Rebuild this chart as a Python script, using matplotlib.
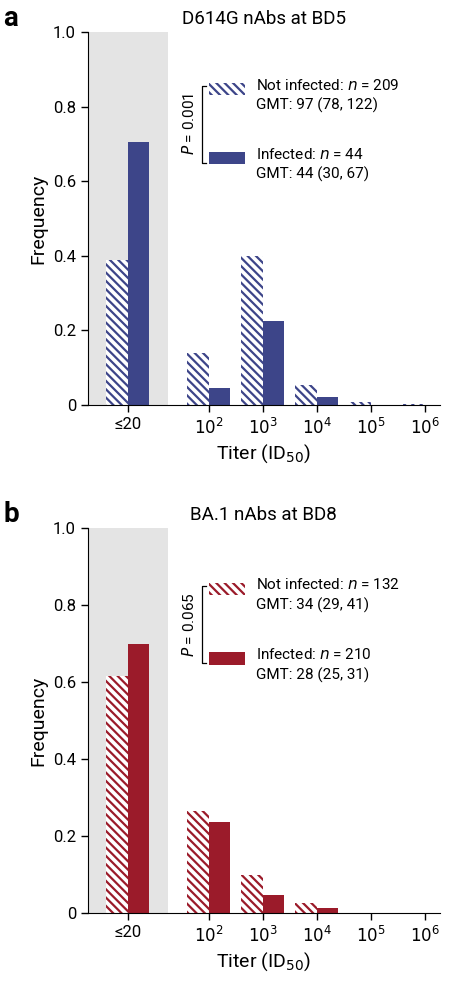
import matplotlib
matplotlib.use("Agg")
import matplotlib.pyplot as plt
from matplotlib.patches import Rectangle

plt.rcParams['font.family'] = ['Roboto', 'DejaVu Sans']
plt.rcParams['hatch.linewidth'] = 1.6

positions = [0.5, 2, 3, 4, 5, 6]
ticklabels = ['≤20', '$10^2$', '$10^3$', '$10^4$', '$10^5$', '$10^6$']
a_not = [0.39, 0.14, 0.40, 0.055, 0.008, 0.002]
a_inf = [0.705, 0.045, 0.225, 0.022, 0.0, 0.0]
b_not = [0.615, 0.265, 0.098, 0.025, 0.0, 0.0]
b_inf = [0.70, 0.237, 0.047, 0.013, 0.0, 0.0]
panels = [
    dict(letter='a', title='D614G nAbs at BD5', color='#3d4589', nv=a_not, iv=a_inf,
         l1=('Not infected: ', '209', 'GMT: 97 (78, 122)'), l2=('Infected: ', '44', 'GMT: 44 (30, 67)'), p='0.001'),
    dict(letter='b', title='BA.1 nAbs at BD8', color='#9b1b2a', nv=b_not, iv=b_inf,
         l1=('Not infected: ', '132', 'GMT: 34 (29, 41)'), l2=('Infected: ', '210', 'GMT: 28 (25, 31)'), p='0.065'),
]
rects = [[0.194, 0.5913, 0.777, 0.3764], [0.194, 0.0787, 0.777, 0.3885]]
H = '\\\\\\\\'

fig = plt.figure(figsize=(4.53, 9.91), dpi=100)
w = 0.4
for pnl, r in zip(panels, rects):
    ax = fig.add_axes(r)
    c = pnl['color']
    ax.axvspan(-0.24, 1.24, color='#e4e4e4', lw=0, zorder=0)
    ax.bar([p - w/2 for p in positions], pnl['nv'], width=w, color='white', edgecolor=c,
           hatch=H, linewidth=0, zorder=2)
    ax.bar([p + w/2 for p in positions], pnl['iv'], width=w, color=c, linewidth=0, zorder=2)
    ax.set_xlim(-0.24, 6.28)
    ax.set_ylim(0, 1.0)
    ax.set_xticks(positions)
    ax.set_xticklabels(ticklabels, fontsize=12)
    ax.set_yticks([0, 0.2, 0.4, 0.6, 0.8, 1.0])
    ax.set_yticklabels(['0', '0.2', '0.4', '0.6', '0.8', '1.0'], fontsize=12)
    ax.spines['top'].set_visible(False)
    ax.spines['right'].set_visible(False)
    ax.tick_params(direction='out', length=5, width=1)
    ax.set_ylabel('Frequency', fontsize=14)
    ax.set_xlabel('Titer (ID$_{50}$)', fontsize=14)
    ax.set_title(pnl['title'], fontsize=13.5, pad=6)
    ax.text(-0.24, 1.0, pnl['letter'], transform=ax.transAxes, fontsize=20, fontweight='bold',
            ha='left', va='bottom')
    tr = ax.transAxes
    ys = [0.845, 0.66] if pnl['letter'] == 'a' else [0.84, 0.66]
    for k, (lab, y) in enumerate(zip([pnl['l1'], pnl['l2']], ys)):
        if k == 0:
            ax.add_patch(Rectangle((0.345, y - 0.015), 0.1, 0.032, transform=tr, facecolor='white',
                                   edgecolor=c, hatch=H, linewidth=0))
        else:
            ax.add_patch(Rectangle((0.345, y - 0.015), 0.1, 0.032, transform=tr, facecolor=c, linewidth=0))
        ax.text(0.478, y + 0.012, lab[0] + '$\\it{n}$ = ' + lab[1], transform=tr, fontsize=11,
                va='center')
        ax.text(0.478, y - 0.042, lab[2], transform=tr, fontsize=11, va='center')
    bx = 0.325
    ax.plot([bx + 0.012, bx, bx, bx + 0.012], [ys[0] + 0.01, ys[0] + 0.01, ys[1] - 0.01, ys[1] - 0.01],
            transform=tr, color='black', lw=0.9)
    ax.text(bx - 0.015, (ys[0] + ys[1]) / 2, '$\\it{P}$ = ' + pnl['p'], transform=tr, rotation=90,
            fontsize=11, ha='right', va='center')

fig.savefig('out.png', dpi=100)
